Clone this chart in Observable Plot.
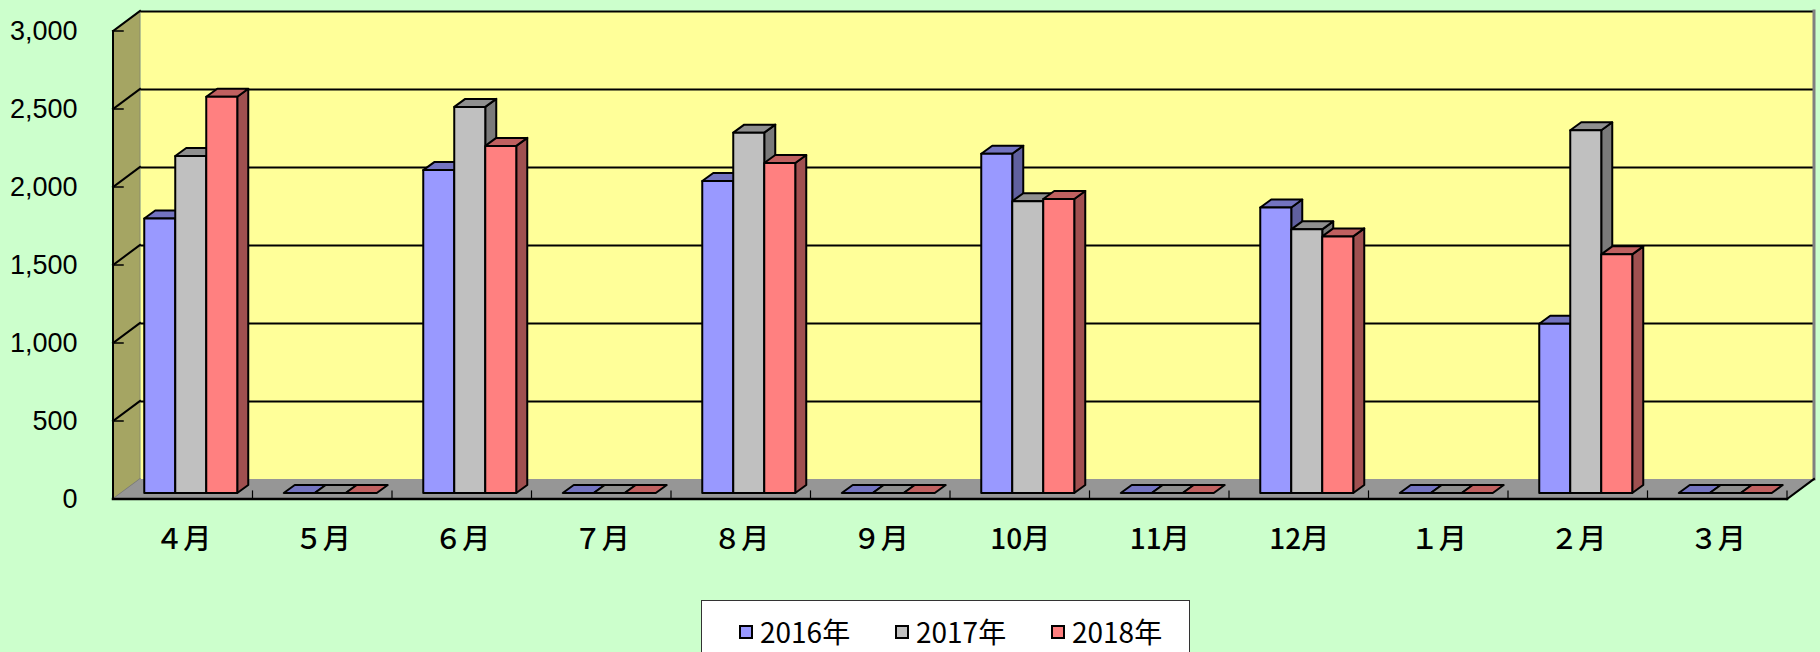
<!DOCTYPE html>
<html>
<head>
<meta charset="utf-8">
<script src="https://cdn.jsdelivr.net/npm/d3@7"></script>
<script src="https://cdn.jsdelivr.net/npm/@observablehq/plot@0.6"></script>
<style>
  html, body { margin: 0; padding: 0; overflow: hidden; background: #CCFFCC; }
  svg { display: block; }
  #legend {
    margin-left: 701px; margin-top: 10px; width: 489px; height: 80px;
    background: #ffffff; border: 1.5px solid #333; box-sizing: border-box;
    display: flex; align-items: flex-start; padding-left: 37px; padding-top: 14px;
    font-family: 'Noto Sans CJK JP', sans-serif; font-size: 28px; color: #000;
  }
  .item { display: flex; align-items: center; width: 156px; flex: none; line-height: 1.2; }
  .sw { width: 10px; height: 10px; border: 2px solid #000; margin-right: 7px; }
</style>
</head>
<body>
<div id="chart"></div>
<div id="legend"></div>
<script>
// ---- data ----
const months = ["４月", "５月", "６月", "７月", "８月", "９月", "10月", "11月", "12月", "１月", "２月", "３月"];
const years = ["2016年", "2017年", "2018年"];
const v2016 = [1760, 0, 2070, 0, 2000, 0, 2175, 0, 1830, 0, 1085, 0];
const v2017 = [2160, 0, 2475, 0, 2310, 0, 1870, 0, 1690, 0, 2325, 0];
const v2018 = [2540, 0, 2225, 0, 2115, 0, 1885, 0, 1645, 0, 1530, 0];
const yTicks = [0, 500, 1000, 1500, 2000, 2500, 3000];

// ---- styles ----
const frontColors = ["#9999FF", "#C0C0C0", "#FF8080"];
const topColors = ["#7373C0", "#8F8F8F", "#C06060"];
const sideColors = ["#60609F", "#7A7A7A", "#A05050"];
const WX = 27, WY = -20;   // wall depth (px)
const BX = 8, BY = -6;     // bar front plane offset (px)
const DX = 11, DY = -8;    // bar depth (px)
const groupFrac = 2 / 3;   // gap width 50%

const series = [v2016, v2017, v2018];
const bars = months.flatMap((m, mi) => years.map((yr, yi) => {
  const x1 = mi + (1 - groupFrac) / 2 + yi * groupFrac / 3;
  return {month: m, year: yr, mi, yi, value: series[yi][mi], x1, x2: x1 + groupFrac / 3};
}));

function poly(g, pts, fill, stroke, sw) {
  g.append("path")
    .attr("d", "M" + pts.map(p => p.join(",")).join("L") + "Z")
    .attr("fill", fill).attr("stroke", stroke || "none")
    .attr("stroke-width", sw || 0).attr("stroke-linejoin", "round");
}
function seg(g, a, b, stroke, sw) {
  g.append("line").attr("x1", a[0]).attr("y1", a[1]).attr("x2", b[0]).attr("y2", b[1])
    .attr("stroke", stroke).attr("stroke-width", sw).attr("stroke-linecap", "square");
}

// side wall, floor and axis decorations through the plot's scales
function room(index, scales) {
  const {x, y} = scales;
  const g = d3.create("svg:g");
  const [d0, d1] = x.domain();
  const x0 = x(d0), x1 = x(d1);
  const y0 = y(0), yT = y(yTicks[yTicks.length - 1]);
  // left wall
  poly(g, [[x0, y0], [x0, yT], [x0 + WX, yT + WY], [x0 + WX, y0 + WY]], "#A5A563");
  seg(g, [x0 + WX, y0 + WY], [x0 + WX, yT + WY], "#8a8a6a", 1);
  for (const v of yTicks) {
    if (v === 0) seg(g, [x0, y(v)], [x0 + WX, y(v) + WY], "#777", 1.5);
    else {
      seg(g, [x0, y(v)], [x0 + WX, y(v) + WY], "#000", 2);
      seg(g, [x0, y(v)], [x0 + 10, y(v)], "#000", 1.5);
    }
  }
  // back wall right edge
  seg(g, [x1 + WX, y0 + WY], [x1 + WX, yT + WY], "#808080", 3);
  // floor
  poly(g, [[x0, y0], [x1, y0], [x1 + WX, y0 + WY], [x0 + WX, y0 + WY]], "#969696");
  seg(g, [x1, y0], [x1 + WX, y0 + WY], "#000", 2);
  for (let k = d0 + 1; k <= d1; k++) seg(g, [x(k), y0], [x(k), y0 - 8], "#000", 1.2);
  seg(g, [x0, y0], [x1, y0], "#000", 2.5);
  seg(g, [x0, y0], [x0, yT], "#000", 2);
  return g.node();
}

// tops and sides of the columns
function boxes(index, scales) {
  const {x, y} = scales;
  const g = d3.create("svg:g");
  for (const b of bars) {
    const xl = x(b.x1) + BX, xr = x(b.x2) + BX;
    const yb = y(0) + BY, yt = y(b.value) + BY;
    if (b.value > 0)
      poly(g, [[xr, yb], [xr, yt], [xr + DX, yt + DY], [xr + DX, yb + DY]], sideColors[b.yi], "#000", 2);
    poly(g, [[xl, yt], [xr, yt], [xr + DX, yt + DY], [xl + DX, yt + DY]], topColors[b.yi], "#000", 2);
  }
  return g.node();
}

const chart = Plot.plot({
  width: 1820,
  height: 590,
  marginLeft: 113,
  marginRight: 33,
  marginTop: 31,
  marginBottom: 91,
  style: {background: "transparent", color: "#000", fontFamily: "'Noto Sans CJK JP', sans-serif"},
  x: {domain: [0, 12], label: null},
  y: {domain: [0, 3000], label: null},
  color: {domain: years, range: frontColors},
  marks: [
    Plot.frame({fill: "#FFFF99", stroke: null, dx: WX, dy: WY}),
    Plot.ruleY(yTicks.filter(v => v > 0), {dx: WX, dy: WY, stroke: "#000", strokeWidth: 2.2}),
    room,
    boxes,
    Plot.rectY(bars, {x1: "x1", x2: "x2", y1: 0, y2: "value", fill: "year", stroke: "#000", strokeWidth: 2, strokeLinejoin: "round", dx: BX, dy: BY}),
    Plot.axisY(yTicks, {tickFormat: d3.format(","), tickSize: 0, tickPadding: 36, fontSize: 27, fontFamily: "'Liberation Sans', sans-serif"}),
    Plot.axisX(months.map((m, i) => i + 0.5), {tickFormat: d => months[Math.floor(d)], tickSize: 0, tickPadding: 30, fontSize: 28, fontWeight: 500})
  ]
});
document.getElementById("chart").appendChild(chart);

// legend
const legend = d3.select("#legend");
years.forEach((yr, i) => {
  const it = legend.append("div").attr("class", "item");
  it.append("div").attr("class", "sw").style("background", frontColors[i]);
  it.append("span").text(yr);
});
</script>
</body>
</html>
